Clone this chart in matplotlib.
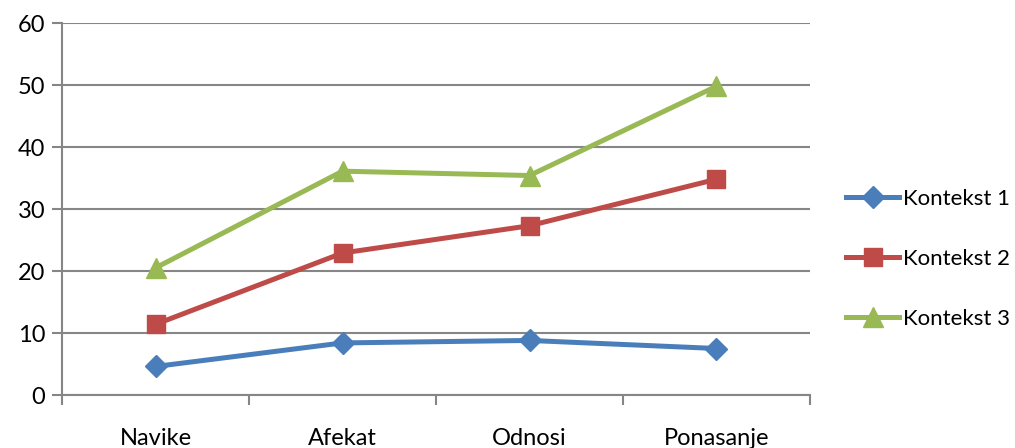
import matplotlib.pyplot as plt
import numpy as np

plt.rcParams['font.family'] = ['Lato', 'DejaVu Sans']

categories = ['Navike', 'Afekat', 'Odnosi', 'Ponasanje']
kontekst1 = [4.6, 8.4, 8.8, 7.5]
kontekst2 = [11.4, 22.9, 27.3, 34.8]
kontekst3 = [20.5, 36.1, 35.4, 49.8]
series_names = ['Kontekst 1', 'Kontekst 2', 'Kontekst 3']

fig = plt.figure(figsize=(10.15, 4.48), dpi=100)
ax = fig.add_axes([62 / 1015, 1 - 395 / 448, (810 - 62) / 1015, (395 - 23) / 448])

x = np.arange(len(categories))
grid_col = '#868686'

ax.plot(x, kontekst1, color='#4A7EBB', lw=3.6, marker='D', ms=11, label=series_names[0])
ax.plot(x, kontekst2, color='#BE4B48', lw=3.6, marker='s', ms=13, label=series_names[1])
ax.plot(x, kontekst3, color='#98B954', lw=3.6, marker='^', ms=14, label=series_names[2])

ax.set_xlim(-0.5, len(categories) - 0.5)
ax.set_ylim(0, 60)
ax.set_yticks(range(0, 61, 10))
ax.yaxis.grid(True, color=grid_col, lw=1.5)
ax.set_axisbelow(True)

ax.set_xticks(x)
ax.set_xticklabels(categories)
ax.set_xticks(np.arange(-0.5, len(categories)), minor=True)
ax.tick_params(axis='x', which='major', length=0, pad=24, labelsize=17)
ax.tick_params(axis='x', which='minor', length=7, width=1.5, color=grid_col)
ax.tick_params(axis='y', length=7, width=1.5, color=grid_col, labelsize=17, pad=5)

for side in ['top', 'right']:
    ax.spines[side].set_visible(False)
for side in ['left', 'bottom']:
    ax.spines[side].set_color(grid_col)
    ax.spines[side].set_linewidth(1.5)

fig.legend(loc='center left', bbox_to_anchor=(826 / 1015, 1 - 259 / 448),
           frameon=False, fontsize=16, handlelength=2.4, handletextpad=0.15,
           labelspacing=1.8, markerscale=1)

fig.savefig('out.png', dpi=100)
